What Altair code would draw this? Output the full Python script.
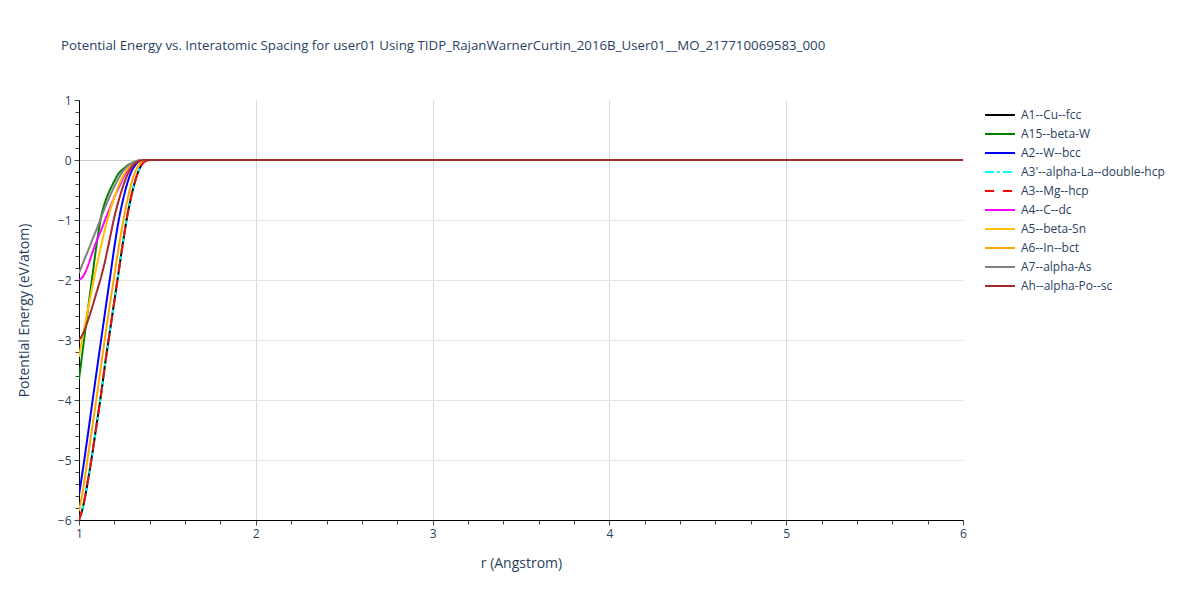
import altair as alt
import pandas as pd

title_text = "Potential Energy vs. Interatomic Spacing for user01 Using TIDP_RajanWarnerCurtin_2016B_User01__MO_217710069583_000"

series_names = [
    "A1--Cu--fcc", "A15--beta-W", "A2--W--bcc", "A3'--alpha-La--double-hcp",
    "A3--Mg--hcp", "A4--C--dc", "A5--beta-Sn", "A6--In--bct", "A7--alpha-As",
    "Ah--alpha-Po--sc",
]
series_colors = ["#000000", "#008000", "#0000ff", "#00ffff", "#ff0000",
                 "#ff00ff", "#ffc000", "#ffa500", "#808080", "#a52a2a"]
series_dashes = [[1, 0], [1, 0], [1, 0], [9, 3, 3, 3], [9, 9],
                 [1, 0], [1, 0], [1, 0], [1, 0], [1, 0]]

r = [1.0, 1.025, 1.05, 1.075, 1.1, 1.125, 1.15, 1.175, 1.2, 1.225, 1.25,
     1.275, 1.3, 1.325, 1.35, 1.375, 1.4, 6.0]

e_A1 = [-6.0, -5.75, -5.35, -4.9, -4.4, -3.9, -3.35, -2.85, -2.35, -1.85, -1.35,
        -0.9, -0.55, -0.28, -0.1, -0.02, 0, 0]
e_A15 = [-3.65, -3.08, -2.5, -1.95, -1.4, -0.95, -0.68, -0.5, -0.35, -0.22, -0.15,
         -0.09, -0.05, -0.02, 0, 0, 0, 0]
e_A2 = [-5.58, -5.1, -4.58, -4.05, -3.52, -3.0, -2.48, -1.97, -1.45, -1.0, -0.65,
        -0.37, -0.17, -0.06, -0.01, 0, 0, 0]
e_A3p = [-6.0, -5.75, -5.35, -4.9, -4.4, -3.9, -3.35, -2.85, -2.35, -1.85, -1.35,
         -0.9, -0.55, -0.28, -0.1, -0.02, 0, 0]
e_A3 = [-6.0, -5.75, -5.35, -4.9, -4.4, -3.9, -3.35, -2.85, -2.35, -1.85, -1.35,
        -0.9, -0.55, -0.28, -0.1, -0.02, 0, 0]
e_A4 = [-2.0, -1.93, -1.77, -1.55, -1.35, -1.17, -0.98, -0.8, -0.62, -0.46, -0.3,
        -0.17, -0.08, -0.03, -0.01, 0, 0, 0]
e_A5 = [-3.28, -2.88, -2.5, -2.12, -1.76, -1.43, -1.12, -0.85, -0.62, -0.42, -0.26,
        -0.14, -0.06, -0.02, 0, 0, 0, 0]
e_A6 = [-5.85, -5.45, -4.95, -4.45, -3.95, -3.42, -2.9, -2.4, -1.92, -1.45, -1.02,
        -0.65, -0.35, -0.15, -0.04, 0, 0, 0]
e_A7 = [-1.88, -1.7, -1.52, -1.33, -1.15, -0.96, -0.77, -0.6, -0.44, -0.3, -0.18,
        -0.1, -0.05, -0.02, 0, 0, 0, 0]
e_Ah = [-3.0, -2.88, -2.68, -2.45, -2.2, -1.95, -1.65, -1.3, -0.95, -0.67, -0.43,
        -0.24, -0.11, -0.04, -0.01, 0, 0, 0]

all_series = [e_A1, e_A15, e_A2, e_A3p, e_A3, e_A4, e_A5, e_A6, e_A7, e_Ah]

x_ticks = [round(1 + 0.2 * i, 1) for i in range(26)]
y_ticks = [round(-6 + 0.2 * i, 1) for i in range(36)]

rows = []
for idx, (name, vals) in enumerate(zip(series_names, all_series)):
    for rv, ev in zip(r, vals):
        rows.append({"series": name, "r": rv, "energy": ev, "ord": idx})
df = pd.DataFrame(rows)

FONT = "Open Sans"
TXT = "#2a3f5f"

x_axis = alt.Axis(
    values=x_ticks,
    labelExpr="datum.value % 1 === 0 ? format(datum.value, 'd') : ''",
    labelFlush=False,
    grid=True,
    gridColor="#d9d9d9",
    gridOpacity={"condition": {"test": "datum.value % 1 !== 0 || datum.value === 6 || datum.value === 1", "value": 0}, "value": 1},
    tickSize={"condition": {"test": "datum.value % 1 === 0", "value": 5}, "value": 4},
    tickColor="#444444",
    domainColor="#000000",
    domainWidth=1,
    labelFont=FONT, labelFontSize=12, labelColor=TXT, labelPadding=3,
    title="r (Angstrom)", titleFont=FONT, titleFontSize=14, titleFontWeight="normal",
    titleColor=TXT, titlePadding=17,
)
y_axis = alt.Axis(
    values=y_ticks,
    labelExpr="datum.value % 1 === 0 ? format(datum.value, 'd') : ''",
    labelFlush=False,
    grid=True,
    gridColor={"condition": {"test": "datum.value === 0", "value": "#cccccc"}, "value": "#e6e6e6"},
    gridOpacity={"condition": {"test": "datum.value % 1 !== 0 || datum.value === 1", "value": 0}, "value": 1},
    tickSize={"condition": {"test": "datum.value % 1 === 0", "value": 5}, "value": 4},
    tickColor="#444444",
    domainColor="#000000",
    domainWidth=1,
    labelFont=FONT, labelFontSize=12, labelColor=TXT, labelPadding=3,
    title="Potential Energy (eV/atom)", titleFont=FONT, titleFontSize=14,
    titleFontWeight="normal", titleColor=TXT, titlePadding=26,
)

legend = alt.Legend(
    orient="none", legendX=905, legendY=7, title=None,
    symbolType="stroke", symbolSize=900, symbolStrokeWidth=2,
    clipHeight=16, rowPadding=3, padding=0, labelOffset=5,
    labelFont=FONT, labelFontSize=12, labelColor=TXT, labelLimit=300,
)

chart = alt.Chart(df).mark_line(strokeWidth=2, clip=True, interpolate="monotone").encode(
    x=alt.X("r:Q", scale=alt.Scale(domain=[1, 6], nice=False, zero=False), axis=x_axis),
    y=alt.Y("energy:Q", scale=alt.Scale(domain=[-6, 1], nice=False, zero=False), axis=y_axis),
    color=alt.Color("series:N", scale=alt.Scale(domain=series_names, range=series_colors), legend=legend),
    strokeDash=alt.StrokeDash("series:N", scale=alt.Scale(domain=series_names, range=series_dashes), legend=legend),
    order=alt.Order("ord:Q"),
).properties(
    width=884, height=420,
    title=alt.TitleParams(title_text, anchor="start", frame="group", dx=-18, offset=42,
                          font=FONT, fontSize=13.3, fontWeight="normal", color=TXT),
    padding={"left": 71, "top": 92, "right": 229, "bottom": 72},
    autosize="none",
).configure_view(stroke=None)

chart.save("out.html", embed_options={"renderer": "svg", "actions": False})
